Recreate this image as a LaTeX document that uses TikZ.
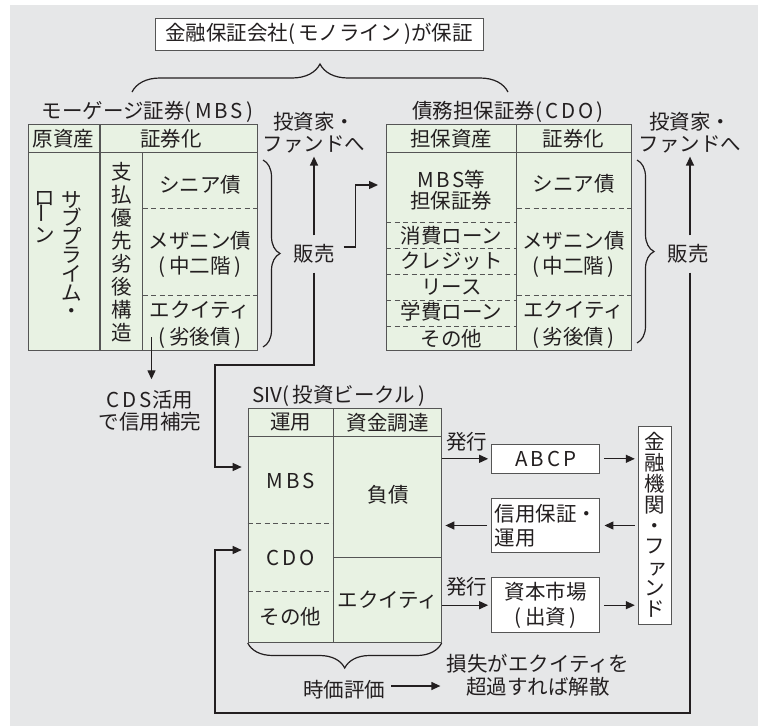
\documentclass[tikz,border=0pt]{standalone}
\usepackage{fontspec}
\setmainfont{Noto Sans CJK JP}
\newfontfamily\lsp[LetterSpace=14]{Noto Sans CJK JP}
\usetikzlibrary{arrows.meta,decorations.pathreplacing,calc}
\definecolor{panel}{HTML}{E6E7E8}
\definecolor{cell}{HTML}{E8F2E3}
\definecolor{ink}{HTML}{231F20}
\definecolor{rulec}{HTML}{555555}
\lineskiplimit=-100pt
\newcommand\vbar{\rotatebox{90}{ー}}
\tikzset{
  txt/.style={font=\fontsize{20.5}{22}\selectfont, text=ink, inner sep=0pt, align=center},
  lsk/.style={font=\fontsize{20.5}{#1}\selectfont},
  vtxt/.style={text=ink, inner sep=0pt, align=center, font=\fontsize{20.5}{#1}\selectfont},
  tabbox/.style={draw=rulec, line width=1.1pt, fill=cell, inner sep=0pt, anchor=north west},
  tabline/.style={draw=rulec, line width=1.1pt},
  dashrule/.style={draw=rulec, line width=0.9pt, dash pattern=on 5pt off 3.5pt},
  conn/.style={draw=ink, line width=1.3pt},
  arr/.style={conn, -{Triangle[length=9pt,width=8pt]}},
  wbox/.style={draw=rulec, line width=1pt, fill=white, inner sep=0pt, text=ink, align=center, font=\fontsize{20.5}{22}\selectfont},
  brc/.style={draw=ink, line width=1.2pt, decorate},
}
\begin{document}
\begin{tikzpicture}[x=1pt,y=-1pt]
\useasboundingbox (0,0) rectangle (758,726);
\fill[panel] (10,5) rectangle (758,726);

% top guarantee box and brace
\node[wbox, minimum width=328pt, minimum height=31.7pt] (mono) at (319,34.2) {金融保証会社(\,モノライン\,)が保証};
\draw[brc, decoration={brace, amplitude=28pt}] (132,92) -- (508,92);

% titles
\node[txt] (mbsT) at (147.5,112) {モーゲージ証券(\,{\lsp MBS}\,)};
\node[txt] (cdoT) at (508,112) {債務担保証券(\,{\lsp CDO}\,)};

% ===== MBS table =====
\node[tabbox, minimum width=229pt, minimum height=226pt] (mbs) at (28,124) {};
\draw[tabline] (28,152.7) -- (257,152.7);
\draw[tabline] (100,124) -- (100,350);
\draw[tabline] (142.7,152.7) -- (142.7,350);
\draw[dashrule] (142.7,208.7) -- (257,208.7);
\draw[dashrule] (142.7,295.3) -- (257,295.3);
\node[txt] (mh1) at (63.5,138.5) {原資産};
\node[txt] (mh2) at (171,138.5) {証券化};
\node[vtxt=18.6, anchor=north] (sub1) at (71.7,191) {サ\\ブ\\プ\\ラ\\イ\\ム\\・};
\node[vtxt=18.6, anchor=north] (sub2) at (45,191) {ロ\\\vbar\\ン};
\node[vtxt=23.1, anchor=north] (prio) at (121.7,161.7) {支\\払\\優\\先\\劣\\後\\構\\造};
\node[txt] (msen) at (200,185) {シニア債};
\node[txt, lsk=25] (mmez) at (200,254.2) {メザニン債\\(\,中二階\,)};
\node[txt, lsk=26.6] (meq) at (200,325) {エクイティ\\(\,劣後債\,)};
\draw[brc, decoration={brace, amplitude=17pt}] (263,160) -- (263,347);

% ===== CDO table =====
\node[tabbox, minimum width=244.7pt, minimum height=226pt] (cdo) at (386,124) {};
\draw[tabline] (386,152.7) -- (630.7,152.7);
\draw[tabline] (516.7,124) -- (516.7,350);
\foreach \yy in {222.7,248,274,300,326} \draw[dashrule] (386,\yy) -- (516.7,\yy);
\draw[dashrule] (516.7,208.7) -- (630.7,208.7);
\draw[dashrule] (516.7,295.3) -- (630.7,295.3);
\node[txt] (ch1) at (451.3,138.5) {担保資産};
\node[txt] (ch2) at (573.7,138.5) {証券化};
\node[txt, lsk=20.5] (cmbs) at (451.3,190) {{\lsp MBS}等\\担保証券};
\node[txt] (cc1) at (451.3,235.5) {消費ローン};
\node[txt] (cc2) at (451.3,261.2) {クレジット};
\node[txt] (cc3) at (451.3,286.7) {リース};
\node[txt] (cc4) at (451.3,312) {学費ローン};
\node[txt] (cc5) at (451.3,338.3) {その他};
\node[txt] (csen) at (573.7,184) {シニア債};
\node[txt, lsk=25] (cmez) at (573.7,254.2) {メザニン債\\(\,中二階\,)};
\node[txt, lsk=26.6] (ceq) at (573.7,325) {エクイティ\\(\,劣後債\,)};
\draw[brc, decoration={brace, amplitude=17pt}] (637,160) -- (637,343);

% sales / investors
\node[txt, inner ysep=9pt, inner xsep=9pt] (sell1) at (314,254) {販売};
\node[txt, inner ysep=3pt] (inv1) at (314,133) {投資家・\\ファンドへ};
\node[txt, inner ysep=9pt, inner xsep=9pt] (sell2) at (688,254) {販売};
\node[txt, inner ysep=3pt] (inv2) at (690,133) {投資家・\\ファンドへ};

% CDS
\coordinate (cdsfrom) at (151.5,337);
\node[txt, lsk=21.7, inner ysep=11pt] (cds) at (150,410.8) {{\lsp CDS}活用\\で信用補完};

% ===== SIV table =====
\node[txt, anchor=west] (sivT) at (252,396) {SIV(\,投資ビークル\,)};
\node[tabbox, minimum width=193.6pt, minimum height=233.4pt] (siv) at (247.7,408.3) {};
\draw[tabline] (247.7,436.7) -- (441.3,436.7);
\draw[tabline] (333.7,408.3) -- (333.7,641.7);
\draw[dashrule] (247.7,523.3) -- (333.7,523.3);
\draw[dashrule] (247.7,591.7) -- (333.7,591.7);
\draw[tabline] (333.7,557.7) -- (441.3,557.7);
\node[txt] (sh1) at (290.7,422.5) {運用};
\node[txt] (sh2) at (387.5,422.5) {資金調達};
\node[txt] (smbs) at (290.7,480.7) {{\lsp MBS}};
\node[txt] (scdo) at (290.7,558) {{\lsp CDO}};
\node[txt] (soth) at (290.7,617) {その他};
\node[txt] (sdebt) at (388,495) {負債};
\node[txt] (seq) at (388,600) {エクイティ};
\draw[brc, decoration={brace, amplitude=25pt}] (441.7,643) -- (247.7,643);

% right side boxes
\node[wbox, minimum width=108.3pt, minimum height=29pt] (abcp) at (545.8,458.8) {{\lsp ABCP}};
\node[wbox, minimum width=108.3pt, minimum height=54.4pt, align=left, font=\fontsize{20.5}{24.3}\selectfont] (credit) at (545.8,525.5) {信用保証・\\運用};
\node[wbox, minimum width=108.3pt, minimum height=55pt, font=\fontsize{20.5}{24.3}\selectfont] (cap) at (545.8,605.2) {資本市場\\(\,出資\,)};
\node[wbox, minimum width=33.4pt, minimum height=198pt, font=\fontsize{20.5}{20.8}\selectfont] (fin) at (655,525) {金\\融\\機\\関\\・\\フ\\\hspace*{6pt}ァ\\ン\\ド};
\node[txt] (hakko1) at (466.7,441.7) {発行};
\node[txt] (hakko2) at (466.7,586.7) {発行};

% bottom texts
\node[txt] (mtm) at (344,690) {時価評価};
\node[txt, lsk=23.4] (loss) at (538,675) {損失がエクイティを\\超過すれば解散};

% ===== connectors =====
\draw[arr] (sell1.north) -- (inv1.south);
\draw[arr, shorten >=6pt] (sell1.south) |- (215,365) |- (siv.west |- 0,467);
\draw[arr, shorten >=8pt] ([yshift=7pt]sell1.east) -- ++(12,0) |- (cdo.west |- 0,185);
\draw[arr] (inv2.south |- sell2.north) -- (inv2.south);
\draw[arr, shorten >=6pt] (inv2.south |- sell2.south) |- (215,713) |- (siv.west |- 0,550);
\draw[arr] (cdsfrom) -- (cdsfrom |- cds.north);
\draw[arr, shorten >=3pt] (siv.east |- abcp) -- (abcp.west);
\draw[arr, shorten <=4pt, shorten >=3pt] (abcp.east) -- (fin.west |- abcp);
\draw[arr, shorten <=3pt, shorten >=4pt] (fin.west |- credit) -- (credit.east);
\draw[arr, shorten <=4pt, shorten >=3pt] (credit.west) -- (siv.east |- credit);
\draw[arr, shorten >=3pt] (siv.east |- cap) -- (cap.west);
\draw[arr, shorten <=4pt, shorten >=3pt] (cap.east) -- (fin.west |- cap);
\draw[arr, shorten <=6pt, shorten >=6pt] ([yshift=4pt]mtm.east) -- ([yshift=4pt]mtm.east -| loss.west);
\end{tikzpicture}
\end{document}
